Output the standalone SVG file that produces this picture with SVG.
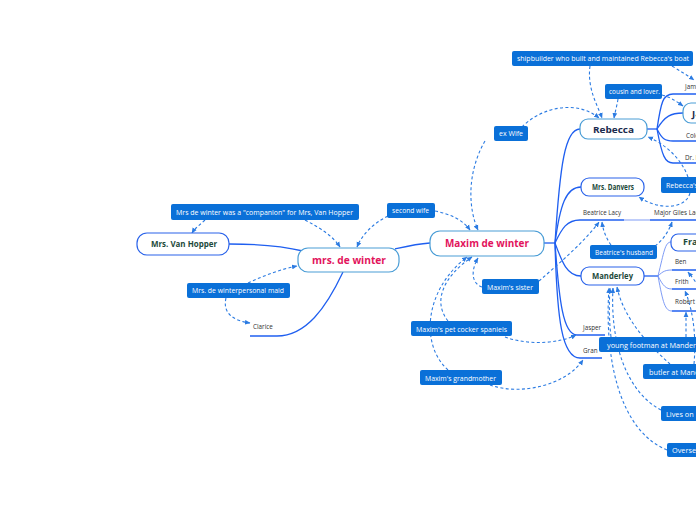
<svg xmlns="http://www.w3.org/2000/svg" width="696" height="520" viewBox="0 0 696 520">
<defs>
<marker id="arr" viewBox="0 0 6 6" refX="5.5" refY="3" markerWidth="5" markerHeight="5" orient="auto">
<path d="M0,0.4 L6,3 L0,5.6 z" fill="#2b7be2"/>
</marker>
<style>
.br{fill:none;stroke:#1f5ff0;stroke-width:1.3}
.br2{fill:none;stroke:#6f90f4;stroke-width:0.9}
.ul{fill:none;stroke:#1f5ff0;stroke-width:1.5}
.rel{fill:none;stroke:#2b7be2;stroke-width:1.1;stroke-dasharray:3 2.4;marker-end:url(#arr)}
.lb rect{fill:#0a70d8;rx:2;ry:2}
.lb text{fill:#ffffff;font-family:"Open Sans","DejaVu Sans",sans-serif;font-size:7px}
.nl{fill:#ffffff;stroke:#4a9dd6;stroke-width:1.2}
.nb{fill:#ffffff;stroke:#2a63ea;stroke-width:1.2}
.tm{fill:#e2135c;font-family:"Open Sans","DejaVu Sans",sans-serif;font-weight:bold;font-size:10.5px;text-anchor:middle}
.tr{fill:#1b2b4e;font-family:"Open Sans","DejaVu Sans",sans-serif;font-weight:bold;font-size:9.5px}
.tg{fill:#1d4a3b;font-family:"Open Sans","DejaVu Sans",sans-serif;font-weight:bold;font-size:8.4px}
.ts{fill:#333333;font-family:"Open Sans","DejaVu Sans",sans-serif;font-size:6.3px}
</style>
</defs>
<rect width="696" height="520" fill="#ffffff"/>

<g id="connectors">
<!-- Maxim hub -->
<path class="br" d="M543,243 H555"/>
<path class="br" d="M555,243 C560,165 565,129 580,129"/>
<path class="br" d="M555,243 C560,205 566,187 581,187"/>
<path class="br" d="M555,243 C562,228 567,220 580,220"/>
<path class="br" d="M555,243 C562,262 567,276 581,276"/>
<path class="br" d="M555,243 C559,300 563,335 577,335"/>
<path class="br" d="M555,243 C557,320 562,358 580,358"/>
<!-- Rebecca hub -->
<path class="br" d="M647,129 H657"/>
<path class="br" d="M657,129 C661,102 663,94 673,94"/>
<path class="br" d="M657,129 C665,116 671,113 683,113"/>
<path class="br" d="M657,129 C662,139 665,141 673,141"/>
<path class="br" d="M657,129 C662,156 665,163 673,163"/>
<!-- Manderley hub -->
<path class="br" d="M644,276 H658"/>
<path class="br2" d="M658,276 C664,252 665,242 671,242"/>
<path class="br2" d="M658,276 C663,271 666,270 672,270"/>
<path class="br2" d="M658,276 C663,286 666,289 672,289"/>
<path class="br2" d="M658,276 C663,303 665,311 672,311"/>
<!-- Beatrice to Major Giles -->
<path class="br2" d="M624,220 H650"/>
<!-- left side -->
<path class="br" d="M430,243 C416,244 408,246 395,249"/>
<path class="br" d="M303,251 C282,246 260,244 229,244"/>
<path class="br" d="M343,272 C326,308 306,336 277,336"/>

<!-- relationships -->
<path class="rel" d="M590,66 C587,88 597,104 602,118"/>
<path class="rel" d="M672,66 C680,71 687,75 694,80"/>
<path class="rel" d="M618,99 C617,106 615,112 614,118"/>
<path class="rel" d="M662,95 C670,97 676,101 683,106"/>
<path class="rel" d="M522,127 C540,108 576,99 599,118"/>
<path class="rel" d="M485,141 C467,172 468,208 478,230"/>
<path class="rel" d="M388,216 C372,224 362,235 357,247"/>
<path class="rel" d="M435,211 C450,214 463,220 470,230"/>
<path class="rel" d="M205,220 C200,225 195,228 192,233"/>
<path class="rel" d="M305,220 C320,228 333,236 340,247"/>
<path class="rel" d="M248,283 C265,275 282,269 297,266"/>
<path class="rel" d="M226,298 C222,315 236,321 250,323"/>
<path class="rel" d="M482,287 C471,283 471,270 478,258"/>
<path class="rel" d="M539,281 C561,262 586,240 599,222"/>
<path class="rel" d="M611,245 C606,238 603,230 602,222"/>
<path class="rel" d="M655,246 C663,240 669,231 672,222"/>
<path class="rel" d="M690,193 C685,211 656,209 639,197"/>
<path class="rel" d="M688,177 C681,158 665,144 648,137"/>
<path class="rel" d="M448,321 C432,301 444,276 472,257"/>
<path class="rel" d="M505,337 C530,346 560,343 576,335"/>
<path class="rel" d="M448,370 C420,345 424,290 467,257"/>
<path class="rel" d="M490,385 C521,396 566,385 583,360"/>
<path class="rel" d="M611,337 C609,320 609,305 610,288"/>
<path class="rel" d="M686,337 C686,328 686,320 686,312"/>
<path class="rel" d="M670,364 C650,346 624,320 617,287"/>
<path class="rel" d="M694,364 C697,330 691,305 685,291"/>
<path class="rel" d="M661,410 C625,391 610,340 613,288"/>
<path class="rel" d="M667,450 C620,431 604,360 609,288"/>
<path class="rel" d="M701,291 C697,283 692,277 688,272"/>
</g>

<g id="maxim">
<rect class="nl" x="430" y="231" width="114" height="25" rx="10"/>
<text class="tm" x="487" y="247" textLength="84" lengthAdjust="spacingAndGlyphs">Maxim de winter</text>
</g>
<g id="mrs-de-winter">
<rect class="nl" x="298" y="248" width="101" height="24" rx="10"/>
<text class="tm" x="349" y="264" textLength="74" lengthAdjust="spacingAndGlyphs">mrs. de winter</text>
</g>
<g id="van-hopper">
<rect class="nb" x="137" y="233" width="92" height="22" rx="10"/>
<text class="tg" x="184" y="247" text-anchor="middle" textLength="66" lengthAdjust="spacingAndGlyphs">Mrs. Van Hopper</text>
</g>
<g id="rebecca">
<rect class="nl" x="580" y="119" width="67" height="20" rx="8"/>
<text class="tr" x="613.5" y="133" text-anchor="middle" textLength="41" lengthAdjust="spacingAndGlyphs">Rebecca</text>
</g>
<g id="jack-favell">
<rect class="nl" x="683" y="103" width="70" height="20" rx="8"/>
<text class="tr" x="692" y="117">Jack Favell</text>
</g>
<g id="mrs-danvers">
<rect class="nb" x="581" y="178" width="63" height="18" rx="8"/>
<text class="tg" x="613" y="190" text-anchor="middle" textLength="42" lengthAdjust="spacingAndGlyphs">Mrs. Danvers</text>
</g>
<g id="manderley">
<rect class="nb" x="581" y="267" width="63" height="18" rx="8"/>
<text class="tg" x="612.5" y="279" text-anchor="middle" textLength="41" lengthAdjust="spacingAndGlyphs">Manderley</text>
</g>
<g id="frank">
<rect class="nb" x="671" y="234" width="80" height="17" rx="7"/>
<text class="tg" x="683" y="245" style="font-size:9px">Frank Crawley</text>
</g>

<g id="james-tabb"><text class="ts" x="685" y="89">James Tabb</text><path class="ul" d="M673,94 H700"/></g>
<g id="colonel-julyan"><text class="ts" x="686" y="138">Colonel Julyan</text><path class="ul" d="M673,141 H700"/></g>
<g id="dr-baker"><text class="ts" x="685" y="160">Dr. Baker</text><path class="ul" d="M673,163 H700"/></g>
<g id="beatrice"><text class="ts" x="583" y="215" textLength="38" lengthAdjust="spacingAndGlyphs">Beatrice Lacy</text><path class="ul" d="M580,220 H624"/></g>
<g id="giles"><text class="ts" x="654" y="215">Major Giles Lacy</text><path class="ul" d="M650,220 H700"/></g>
<g id="ben"><text class="ts" x="675" y="264">Ben</text><path class="ul" d="M672,270 H700"/></g>
<g id="frith"><text class="ts" x="675" y="284">Frith</text><path class="ul" d="M672,289 H700"/></g>
<g id="robert"><text class="ts" x="675" y="304">Robert</text><path class="ul" d="M672,311 H700"/></g>
<g id="jasper"><text class="ts" x="583" y="330">Jasper</text><path class="ul" d="M577,335 H605"/></g>
<g id="gran"><text class="ts" x="583" y="353">Gran</text><path class="ul" d="M580,358 H602"/></g>
<g id="clarice"><text class="ts" x="253" y="329">Clarice</text><path class="ul" d="M250,336 H277"/></g>

<g id="lbl-shipbuilder" class="lb"><rect x="512" y="51" width="181" height="15"/><text x="517" y="61" textLength="172" lengthAdjust="spacingAndGlyphs">shipbuilder who built and maintained Rebecca's boat</text></g>
<g id="lbl-cousin" class="lb"><rect x="605" y="84" width="57" height="15"/><text x="609" y="94" textLength="51" lengthAdjust="spacingAndGlyphs">cousin and lover.</text></g>
<g id="lbl-exwife" class="lb"><rect x="494" y="126" width="34" height="15"/><text x="499" y="136" textLength="24" lengthAdjust="spacingAndGlyphs">ex Wife</text></g>
<g id="lbl-rebeccas" class="lb"><rect x="661" y="177" width="50" height="16"/><text x="666" y="188">Rebecca's</text></g>
<g id="lbl-husband" class="lb"><rect x="590" y="245" width="67" height="14"/><text x="595" y="255" textLength="58" lengthAdjust="spacingAndGlyphs">Beatrice's husband</text></g>
<g id="lbl-second" class="lb"><rect x="387" y="203" width="48" height="15"/><text x="392" y="213" textLength="37" lengthAdjust="spacingAndGlyphs">second wife</text></g>
<g id="lbl-companion" class="lb"><rect x="171" y="204" width="188" height="16"/><text x="176" y="215" textLength="177" lengthAdjust="spacingAndGlyphs">Mrs de winter was a "companion" for Mrs, Van Hopper</text></g>
<g id="lbl-maid" class="lb"><rect x="187" y="283" width="103" height="15"/><text x="192" y="293" textLength="92" lengthAdjust="spacingAndGlyphs">Mrs. de winterpersonal maid</text></g>
<g id="lbl-sister" class="lb"><rect x="482" y="279" width="57" height="15"/><text x="487" y="289.5" textLength="46" lengthAdjust="spacingAndGlyphs">Maxim's sister</text></g>
<g id="lbl-spaniels" class="lb"><rect x="411" y="321" width="101" height="15"/><text x="416" y="331.5" textLength="91" lengthAdjust="spacingAndGlyphs">Maxim's pet cocker spaniels</text></g>
<g id="lbl-grandmother" class="lb"><rect x="420" y="370" width="82" height="15"/><text x="425" y="380.5" textLength="71" lengthAdjust="spacingAndGlyphs">Maxim's grandmother</text></g>
<g id="lbl-footman" class="lb"><rect x="599" y="337" width="110" height="15"/><text x="607" y="347.5" style="font-size:7.3px">young footman at Manderley</text></g>
<g id="lbl-butler" class="lb"><rect x="643" y="364" width="80" height="15"/><text x="649" y="374.5" style="font-size:7.3px">butler at Manderley</text></g>
<g id="lbl-lives" class="lb"><rect x="661" y="406" width="50" height="15"/><text x="666" y="416.5" style="font-size:7.3px">Lives on</text></g>
<g id="lbl-overse" class="lb"><rect x="667" y="443" width="50" height="14"/><text x="672" y="453" style="font-size:7.3px">Overse</text></g>
</svg>
